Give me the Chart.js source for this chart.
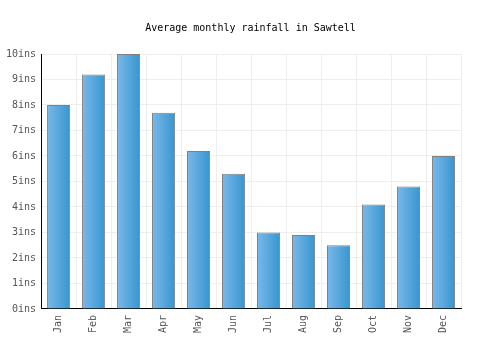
<!DOCTYPE html>
<html>
<head>
<meta charset="utf-8">
<script src="https://cdn.jsdelivr.net/npm/chart.js@4/dist/chart.umd.min.js"></script>
<style>
  html, body { margin: 0; padding: 0; background: #fff; }
  #wrap { width: 500px; height: 350px; }
</style>
</head>
<body>
<div id="wrap"><canvas id="rain"></canvas></div>
<script>
// datos
const months = ['Jan','Feb','Mar','Apr','May','Jun','Jul','Aug','Sep','Oct','Nov','Dec'];
const rainfall = [8.0, 9.2, 10.0, 7.7, 6.2, 5.3, 3.0, 2.9, 2.5, 4.1, 4.8, 6.0];
const yTicks = [0,1,2,3,4,5,6,7,8,9,10];

const BAR_PCT = 0.66;
const MONO = '"DejaVu Sans Mono", monospace';

// degradado horizontal por barra
function barGradient(ctx) {
  const chart = ctx.chart;
  const xs = chart.scales.x;
  if (!xs || ctx.dataIndex === undefined) return '#4ea6dc';
  const cx = xs.getPixelForValue(ctx.dataIndex);
  const half = (xs.width / months.length) * BAR_PCT / 2;
  if (!isFinite(cx) || !isFinite(half) || half <= 0) return '#4ea6dc';
  const g = chart.ctx.createLinearGradient(cx - half, 0, cx + half, 0);
  g.addColorStop(0, '#7ab8ea');
  g.addColorStop(1, '#3796cf');
  return g;
}

const chart = new Chart(document.getElementById('rain'), {
  type: 'bar',
  data: {
    labels: months,
    datasets: [{
      data: rainfall,
      backgroundColor: barGradient,
      borderColor: '#808080',
      borderWidth: 1,
      barPercentage: BAR_PCT,
      categoryPercentage: 1
    }]
  },
  options: {
    responsive: true,
    maintainAspectRatio: false,
    animation: false,
    layout: { padding: { left: 1, right: 0, top: 0, bottom: 11 } },
    plugins: {
      legend: { display: false },
      tooltip: { enabled: false },
      title: {
        display: true,
        text: 'Average monthly rainfall in Sawtell',
        color: '#000',
        font: { family: MONO, size: 10, weight: 'normal' },
        padding: { top: 22, bottom: 20 }
      }
    },
    scales: {
      x: {
        grid: { color: '#eeeeee', offset: true, drawTicks: false },
        border: { color: '#000', width: 1 },
        ticks: {
          color: '#555',
          font: { family: MONO, size: 10 },
          minRotation: 90,
          maxRotation: 90,
          padding: 6
        }
      },
      y: {
        min: 0,
        max: 10,
        afterBuildTicks: axis => { axis.ticks = yTicks.map(v => ({ value: v })); },
        grid: { color: '#eeeeee', drawTicks: false },
        border: { color: '#000', width: 1 },
        ticks: {
          color: '#555',
          font: { family: MONO, size: 10 },
          padding: 5,
          callback: v => v + 'ins'
        }
      },
      // eje vacio a la derecha para dejar margen sin mover el titulo
      yRight: {
        position: 'right',
        min: 0,
        max: 10,
        grid: { display: false },
        border: { display: false },
        ticks: { display: false },
        afterFit: axis => { axis.width = 39; }
      }
    }
  }
});
chart.update();
</script>
</body>
</html>
